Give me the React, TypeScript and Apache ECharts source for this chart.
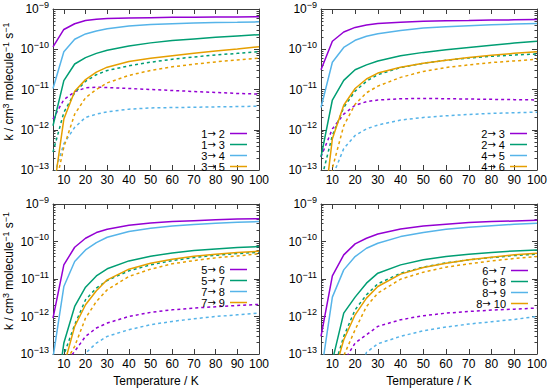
import React, { useEffect, useRef } from 'react';
import * as echarts from 'echarts';

// Temperature grid (K)
const T = [5, 10, 15, 20, 25, 30, 40, 50, 60, 70, 80, 90, 100];

// Panel 1 (top-left) solid
const p1_12 = [1.15e-10, 3.1e-10, 4.3e-10, 5.2e-10, 5.6e-10, 5.8e-10, 6.0e-10, 6.1e-10, 6.2e-10, 6.25e-10, 6.3e-10, 6.35e-10, 6.4e-10];
const p1_13 = [1.26e-12, 1.66e-11, 4.3e-11, 6.2e-11, 7.9e-11, 9.4e-11, 1.2e-10, 1.44e-10, 1.64e-10, 1.81e-10, 1.99e-10, 2.14e-10, 2.3e-10];
const p1_34 = [1.06e-11, 8.7e-11, 1.77e-10, 2.4e-10, 2.84e-10, 3.24e-10, 3.76e-10, 4.13e-10, 4.3e-10, 4.46e-10, 4.63e-10, 4.7e-10, 4.8e-10];
const p1_35 = [2.3e-14, 1.84e-12, 9.1e-12, 1.76e-11, 2.71e-11, 3.59e-11, 4.94e-11, 5.97e-11, 6.9e-11, 7.9e-11, 9.0e-11, 1.01e-10, 1.15e-10];
// Panel 1 dotted
const p1_12d = [1.84e-12, 5.6e-12, 8.8e-12, 1.1e-11, 1.14e-11, 1.12e-11, 1.06e-11, 1.0e-11, 9.46e-12, 8.9e-12, 8.45e-12, 7.98e-12, 7.7e-12];
const p1_13d = [2.8e-13, 2.7e-12, 8.3e-12, 1.6e-11, 2.33e-11, 2.97e-11, 3.87e-11, 4.76e-11, 5.64e-11, 6.43e-11, 7.2e-11, 7.9e-11, 8.7e-11];
const p1_34d = [6e-14, 4.5e-13, 1.15e-12, 2.02e-12, 2.44e-12, 2.79e-12, 3.24e-12, 3.49e-12, 3.56e-12, 3.62e-12, 3.7e-12, 3.77e-12, 3.84e-12];
const p1_35d = [2.1e-14, 3.7e-13, 2.44e-12, 6.25e-12, 1.0e-11, 1.46e-11, 2.24e-11, 2.97e-11, 3.66e-11, 4.25e-11, 4.85e-11, 5.43e-11, 5.97e-11];

// Panel 2 (top-right) solid
const p2_23 = [3.09e-11, 1.58e-10, 2.68e-10, 3.49e-10, 3.98e-10, 4.37e-10, 4.71e-10, 4.99e-10, 5.1e-10, 5.18e-10, 5.3e-10, 5.38e-10, 5.48e-10];
const p2_24 = [2.12e-13, 5.48e-12, 1.69e-11, 3.09e-11, 4.09e-11, 5.13e-11, 6.93e-11, 8.36e-11, 9.72e-11, 1.11e-10, 1.26e-10, 1.42e-10, 1.58e-10];
const p2_45 = [3.56e-12, 4.76e-11, 1.11e-10, 1.67e-10, 2.1e-10, 2.44e-10, 2.94e-10, 3.36e-10, 3.62e-10, 3.84e-10, 4.06e-10, 4.21e-10, 4.37e-10];
const p2_46 = [2.6e-15, 5.97e-13, 4.06e-12, 1.06e-11, 1.82e-11, 2.56e-11, 3.59e-11, 4.5e-11, 5.33e-11, 6.2e-11, 7.06e-11, 7.9e-11, 8.7e-11];
// Panel 2 dotted
const p2_23d = [2.12e-13, 1.05e-12, 2.44e-12, 4.06e-12, 4.99e-12, 5.48e-12, 5.9e-12, 6.0e-12, 5.9e-12, 5.8e-12, 5.7e-12, 5.6e-12, 5.5e-12];
const p2_24d = [5.4e-14, 7.2e-13, 3.56e-12, 9.1e-12, 1.6e-11, 2.33e-11, 3.52e-11, 4.5e-11, 5.33e-11, 6.08e-11, 6.67e-11, 7.2e-11, 7.62e-11];
const p2_45d = [1e-15, 6.8e-14, 3.4e-13, 7.2e-13, 1.05e-12, 1.31e-12, 1.74e-12, 2.02e-12, 2.22e-12, 2.4e-12, 2.55e-12, 2.65e-12, 2.74e-12];
const p2_46d = [1e-15, 1.1e-13, 1.26e-12, 4.3e-12, 8.3e-12, 1.21e-11, 2.0e-11, 2.81e-11, 3.52e-11, 4.09e-11, 4.67e-11, 5.13e-11, 5.64e-11];

// Panel 3 (bottom-left) solid
const p3_56 = [9.1e-13, 2.38e-11, 7.03e-11, 1.22e-10, 1.73e-10, 2.12e-10, 2.7e-10, 3.12e-10, 3.39e-10, 3.6e-10, 3.83e-10, 3.99e-10, 4.07e-10];
const p3_57 = [1.6e-15, 1.96e-13, 1.85e-12, 6.06e-12, 1.21e-11, 1.87e-11, 3.04e-11, 4.05e-11, 4.97e-11, 5.73e-11, 6.35e-11, 6.89e-11, 7.33e-11];
const p3_78 = [8e-14, 6.3e-12, 2.92e-11, 5.97e-11, 9.35e-11, 1.3e-10, 1.84e-10, 2.25e-10, 2.6e-10, 2.82e-10, 3.06e-10, 3.25e-10, 3.39e-10];
const p3_79 = [1e-15, 4.8e-14, 5.45e-13, 2.06e-12, 4.84e-12, 9.5e-12, 1.83e-11, 2.64e-11, 3.37e-11, 4.05e-11, 4.58e-11, 5.07e-11, 5.5e-11];
// Panel 3 dotted
const p3_56d = [1e-15, 5e-14, 1.18e-13, 2.95e-13, 4.92e-13, 6.68e-13, 1.0e-12, 1.29e-12, 1.51e-12, 1.68e-12, 1.82e-12, 1.97e-12, 2.1e-12];
const p3_57d = [1e-15, 9.5e-14, 6.04e-13, 2.79e-12, 5.7e-12, 9.12e-12, 1.65e-11, 2.38e-11, 3.1e-11, 3.73e-11, 4.31e-11, 4.77e-11, 5.18e-11];
const p3_78d = [1e-16, 1e-15, 1e-14, 1.05e-13, 1.96e-13, 2.95e-13, 4.44e-13, 6.04e-13, 7.4e-13, 8.7e-13, 1.0e-12, 1.11e-12, 1.23e-12];
const p3_79d = [1e-15, 5e-14, 1.6e-13, 9.1e-13, 2.52e-12, 5.15e-12, 1.17e-11, 1.83e-11, 2.54e-11, 3.1e-11, 3.66e-11, 4.13e-11, 4.67e-11];

// Panel 4 (bottom-right) solid
const p4_67 = [2.95e-13, 1.21e-11, 4.4e-11, 8.63e-11, 1.22e-10, 1.59e-10, 2.16e-10, 2.6e-10, 2.88e-10, 3.19e-10, 3.39e-10, 3.53e-10, 3.68e-10];
const p4_68 = [1e-15, 6.6e-14, 1.23e-12, 3.29e-12, 7.74e-12, 1.43e-11, 2.38e-11, 3.24e-11, 3.97e-11, 4.58e-11, 5.07e-11, 5.61e-11, 5.97e-11];
const p4_89 = [2.9e-14, 3.29e-12, 1.75e-11, 3.97e-11, 6.61e-11, 8.98e-11, 1.35e-10, 1.73e-10, 2.12e-10, 2.39e-10, 2.65e-10, 2.88e-10, 3.06e-10];
const p4_810 = [1e-15, 2.1e-14, 2.4e-13, 1.11e-12, 3.09e-12, 6.3e-12, 1.35e-11, 2.02e-11, 2.64e-11, 3.24e-11, 3.81e-11, 4.4e-11, 4.86e-11];
// Panel 4 dotted
const p4_67d = [1e-16, 1e-15, 6.3e-14, 1.96e-13, 3.27e-13, 5.45e-13, 8.2e-13, 1.05e-12, 1.23e-12, 1.36e-12, 1.48e-12, 1.57e-12, 1.68e-12];
const p4_68d = [1e-16, 3e-14, 2.95e-13, 1.51e-12, 3.8e-12, 7.43e-12, 1.43e-11, 2.07e-11, 2.69e-11, 3.24e-11, 3.73e-11, 4.22e-11, 4.58e-11];
const p4_89d = [1e-17, 1e-16, 1e-15, 2e-14, 1.1e-13, 1.88e-13, 2.95e-13, 4.18e-13, 5.23e-13, 6.28e-13, 7.25e-13, 8.36e-13, 1.0e-12];
const p4_810d = [1e-16, 1e-15, 9e-14, 4.44e-13, 1.85e-12, 4.2e-12, 9.9e-12, 1.52e-11, 2.07e-11, 2.54e-11, 3.04e-11, 3.51e-11, 3.97e-11];

// Legend labels
const labels1 = ['1→ 2', '1→ 3', '3→ 4', '3→ 5'];
const labels2 = ['2→ 3', '2→ 4', '4→ 5', '4→ 6'];
const labels3 = ['5→ 6', '5→ 7', '7→ 8', '7→ 9'];
const labels4 = ['6→ 7', '6→ 8', '8→ 9', '8→ 10'];

// Axis ticks
const X_TICKS = [10, 20, 30, 40, 50, 60, 70, 80, 90, 100];
const Y_MINOR = [
  2e-13, 3e-13, 4e-13, 5e-13, 6e-13, 7e-13, 8e-13, 9e-13,
  2e-12, 3e-12, 4e-12, 5e-12, 6e-12, 7e-12, 8e-12, 9e-12,
  2e-11, 3e-11, 4e-11, 5e-11, 6e-11, 7e-11, 8e-11, 9e-11,
  2e-10, 3e-10, 4e-10, 5e-10, 6e-10, 7e-10, 8e-10, 9e-10,
];

const COLORS = ['#9400d3', '#009e73', '#56b4e9', '#e69f00'];
const FONT = "'Liberation Sans', Arial, Helvetica, sans-serif";
const ARROW_FONT = "'DejaVu Sans', sans-serif";
const AXIS_COLOR = '#3c3c3c';

const panels = [
  { left: 51, top: 7, width: 208, height: 163, labels: labels1, solid: [p1_12, p1_13, p1_34, p1_35], dotted: [p1_12d, p1_13d, p1_34d, p1_35d], yName: true, xName: false, legRight: 303, legTop: 128 },
  { left: 321, top: 7, width: 218, height: 163, labels: labels2, solid: [p2_23, p2_24, p2_45, p2_46], dotted: [p2_23d, p2_24d, p2_45d, p2_46d], yName: false, xName: false, legRight: 23, legTop: 128 },
  { left: 51, top: 204, width: 208, height: 150, labels: labels3, solid: [p3_56, p3_57, p3_78, p3_79], dotted: [p3_56d, p3_57d, p3_78d, p3_79d], yName: true, xName: true, legRight: 303, legTop: 264 },
  { left: 321, top: 204, width: 218, height: 150, labels: labels4, solid: [p4_67, p4_68, p4_89, p4_810], dotted: [p4_67d, p4_68d, p4_89d, p4_810d], yName: false, xName: true, legRight: 22, legTop: 265 },
];

function buildOption() {
  const grid: any[] = [];
  const xAxis: any[] = [];
  const yAxis: any[] = [];
  const series: any[] = [];
  const legend: any[] = [];

  panels.forEach((p, i) => {
    grid.push({ left: p.left, top: p.top, width: p.width, height: p.height, containLabel: false });
    const xBase = {
      type: 'value', gridIndex: i, min: 5, max: 100,
      axisLine: { show: true, onZero: false, lineStyle: { color: AXIS_COLOR, width: 1 } },
      axisTick: { show: true, inside: true, length: 5, customValues: X_TICKS, lineStyle: { color: AXIS_COLOR } },
      splitLine: { show: false },
    };
    xAxis.push({
      ...xBase, position: 'bottom',
      axisLabel: { show: true, customValues: X_TICKS, margin: 4, fontSize: 12, color: '#000', fontFamily: FONT },
      name: p.xName ? 'Temperature / K' : '', nameLocation: 'middle', nameGap: 21,
      nameTextStyle: { fontSize: 12, color: '#000', fontFamily: FONT },
    });
    xAxis.push({ ...xBase, position: 'top', axisLabel: { show: false } });

    const yBase = {
      type: 'log', logBase: 10, gridIndex: i, min: 1e-13, max: 1e-9,
      splitLine: { show: false },
    };
    yAxis.push({
      ...yBase, position: 'left',
      axisLine: { show: true, onZero: false, lineStyle: { color: AXIS_COLOR, width: 1 } },
      axisTick: { show: true, inside: true, length: 5, lineStyle: { color: AXIS_COLOR } },
      axisLabel: {
        show: true, margin: 4, color: '#000', fontFamily: FONT,
        formatter: (v: number) => {
          const e = Math.round(Math.log10(v));
          return '{b|10}{s|−' + (-e) + '}';
        },
        rich: {
          b: { fontSize: 12, lineHeight: 18, verticalAlign: 'middle', fontFamily: FONT, color: '#000' },
          s: { fontSize: 9, lineHeight: 9, verticalAlign: 'top', fontFamily: FONT, color: '#000' },
        },
      },
      name: p.yName ? '{t|k / cm}{s|3}{t| molecule}{s|−1}{t| s}{s|−1}' : '',
      nameLocation: 'middle', nameGap: 36,
      nameTextStyle: {
        color: '#000', fontFamily: FONT, padding: [0, 0, 0, 16],
        rich: {
          t: { fontSize: 12, lineHeight: 16, verticalAlign: 'middle', fontFamily: FONT, color: '#000' },
          s: { fontSize: 9, lineHeight: 8, verticalAlign: 'top', fontFamily: FONT, color: '#000' },
        },
      },
    });
    yAxis.push({
      ...yBase, position: 'left',
      axisLine: { show: false },
      axisTick: { show: true, inside: true, length: 2.5, customValues: Y_MINOR, lineStyle: { color: AXIS_COLOR } },
      axisLabel: { show: false },
    });
    yAxis.push({
      ...yBase, position: 'right',
      axisLine: { show: true, onZero: false, lineStyle: { color: AXIS_COLOR, width: 1 } },
      axisTick: { show: true, inside: true, length: 5, lineStyle: { color: AXIS_COLOR } },
      axisLabel: { show: false },
    });
    yAxis.push({
      ...yBase, position: 'right',
      axisLine: { show: false },
      axisTick: { show: true, inside: true, length: 2.5, customValues: Y_MINOR, lineStyle: { color: AXIS_COLOR } },
      axisLabel: { show: false },
    });

    p.solid.forEach((arr, k) => {
      series.push({
        type: 'line', name: p.labels[k], xAxisIndex: 2 * i, yAxisIndex: 4 * i,
        data: T.map((t, j) => [t, arr[j]]),
        symbol: 'none', showSymbol: false, clip: true, silent: true,
        color: COLORS[k],
        itemStyle: { color: COLORS[k] },
        lineStyle: { color: COLORS[k], width: 1.5, type: 'solid' },
        z: 3,
      });
    });
    p.dotted.forEach((arr, k) => {
      series.push({
        type: 'line', name: p.labels[k] + ' (dotted)', xAxisIndex: 2 * i, yAxisIndex: 4 * i,
        data: T.map((t, j) => [t, arr[j]]),
        symbol: 'none', showSymbol: false, clip: true, silent: true,
        color: COLORS[k],
        itemStyle: { color: COLORS[k] },
        lineStyle: { color: COLORS[k], width: 1.5, type: [3, 3] },
        z: 2,
      });
    });

    legend.push({
      data: p.labels, orient: 'vertical', right: p.legRight, top: p.legTop,
      align: 'right', icon: 'rect', itemWidth: 17, itemHeight: 1.5, itemGap: 0,
      padding: 0, selectedMode: false,
      formatter: (name: string) => {
        const parts = name.split('→');
        return '{n|' + parts[0] + '}{a|→}{n|' + parts[1] + '}';
      },
      textStyle: {
        fontSize: 11, lineHeight: 9.3, color: '#000', fontFamily: FONT,
        rich: {
          n: { fontSize: 11, lineHeight: 9.3, fontFamily: FONT, color: '#000' },
          a: { fontSize: 10, lineHeight: 9.3, fontFamily: ARROW_FONT, color: '#000' },
        },
      },
    });
  });

  return {
    animation: false,
    backgroundColor: '#ffffff',
    textStyle: { fontFamily: FONT },
    grid, xAxis, yAxis, series, legend,
  };
}

export default function App() {
  const ref = useRef<HTMLDivElement>(null);
  useEffect(() => {
    if (!ref.current) return;
    const chart = echarts.init(ref.current, null, { renderer: 'svg' });
    chart.setOption(buildOption() as any);
    return () => chart.dispose();
  }, []);
  return (
    <div
      ref={ref}
      style={{ position: 'absolute', left: 0, top: 0, width: 550, height: 388, background: '#fff' }}
    />
  );
}
